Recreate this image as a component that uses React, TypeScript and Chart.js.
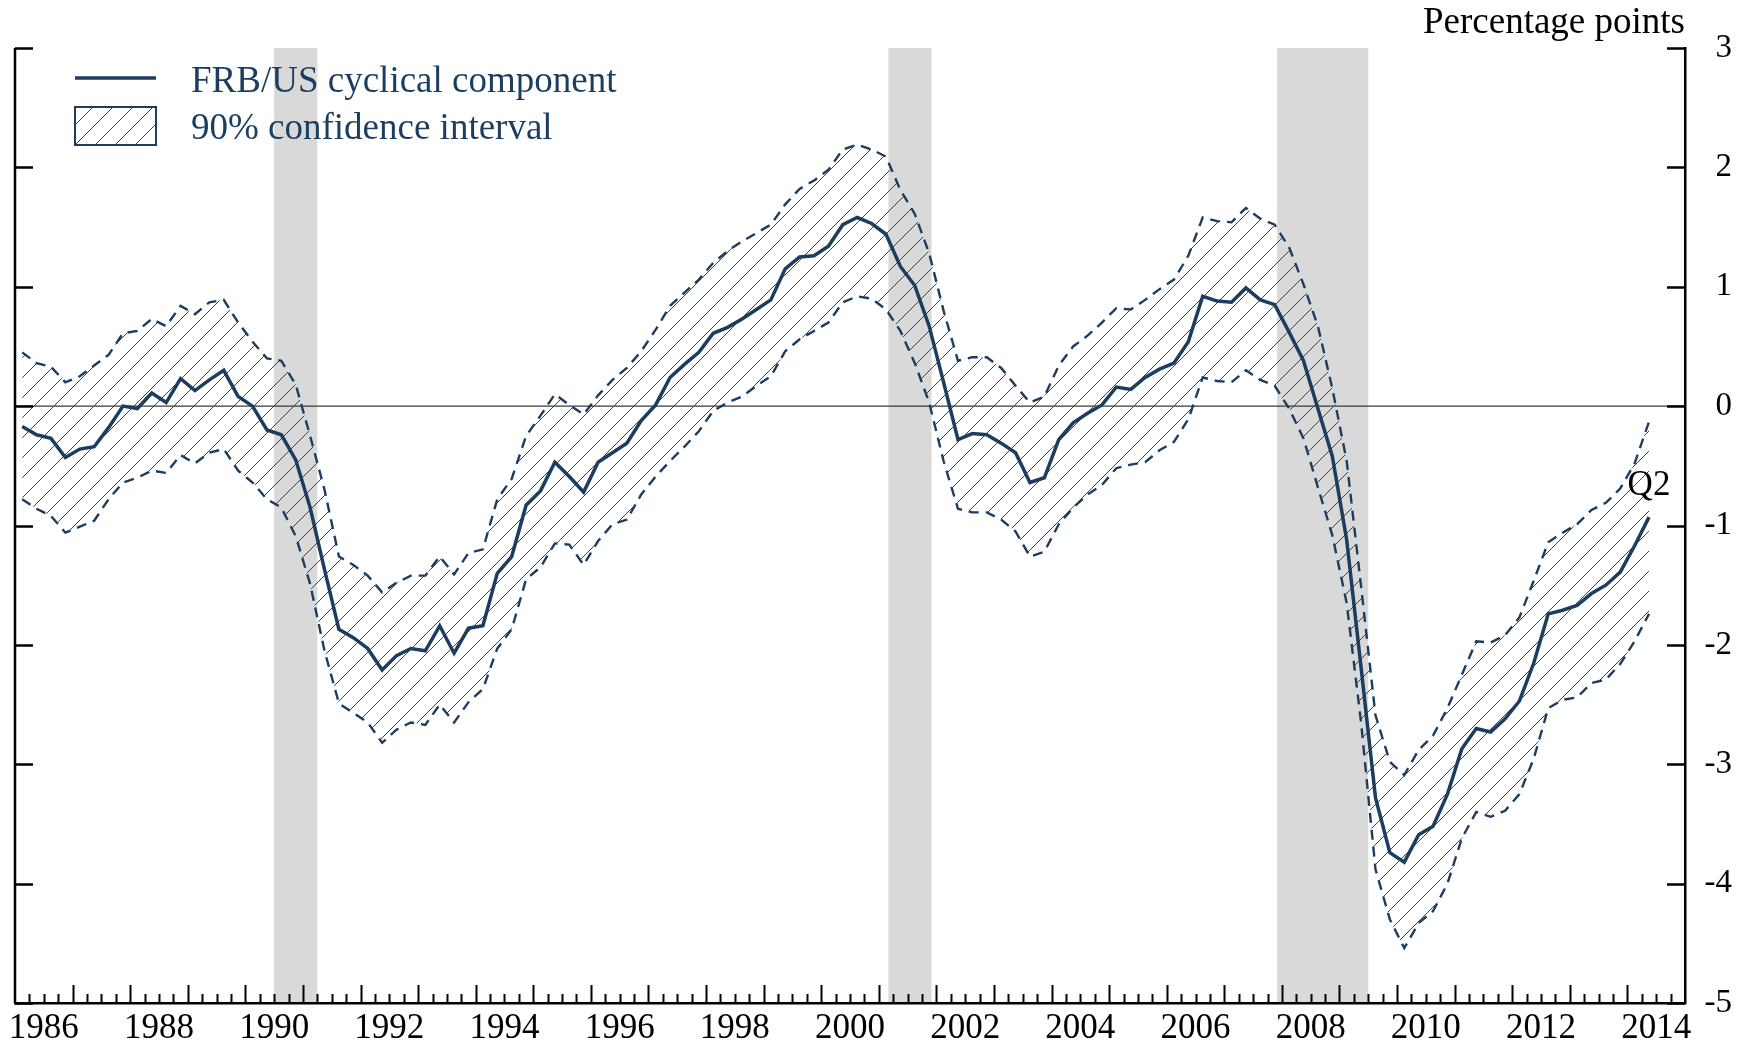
import React, { useEffect, useRef } from "react";
import { Chart, registerables } from "chart.js";

Chart.register(...registerables);

// ---------- data ----------
const startYear = 1986;
const quarterCount = 114; // 1986Q1 .. 2014Q2
const quarters: string[] = [];
for (let i = 0; i < quarterCount; i++) {
  quarters.push(`${startYear + Math.floor(i / 4)}Q${(i % 4) + 1}`);
}

const cyclical: number[] = [
  -0.17, -0.24, -0.27, -0.43, -0.36, -0.34, -0.18, 0.0, -0.02, 0.11,
  0.03, 0.23, 0.13, 0.22, 0.3, 0.08, 0.0, -0.2, -0.24, -0.45,
  -0.85, -1.37, -1.87, -1.94, -2.03, -2.21, -2.09, -2.03, -2.05, -1.84,
  -2.07, -1.86, -1.84, -1.4, -1.26, -0.83, -0.71, -0.47, -0.59, -0.72,
  -0.47, -0.39, -0.31, -0.12, 0.01, 0.24, 0.35, 0.45, 0.61, 0.66,
  0.73, 0.81, 0.89, 1.15, 1.25, 1.26, 1.34, 1.52, 1.58, 1.53,
  1.44, 1.17, 1.01, 0.67, 0.2, -0.28, -0.23, -0.24, -0.31, -0.39,
  -0.64, -0.6, -0.28, -0.14, -0.06, 0.01, 0.16, 0.14, 0.24, 0.31,
  0.36, 0.54, 0.92, 0.88, 0.87, 0.99, 0.89, 0.85, 0.62, 0.38,
  -0.02, -0.42, -1.12, -2.19, -3.28, -3.74, -3.82, -3.59, -3.52, -3.25,
  -2.87, -2.7, -2.73, -2.62, -2.47, -2.15, -1.74, -1.71, -1.67, -1.57,
  -1.5, -1.39, -1.17, -0.93,
];

const upperBound: number[] = [
  0.45, 0.36, 0.33, 0.2, 0.25, 0.34, 0.43, 0.61, 0.63, 0.73,
  0.67, 0.84, 0.77, 0.87, 0.89, 0.7, 0.54, 0.4, 0.38, 0.18,
  -0.25, -0.7, -1.26, -1.33, -1.42, -1.56, -1.48, -1.42, -1.42, -1.26,
  -1.41, -1.23, -1.2, -0.78, -0.61, -0.25, -0.08, 0.1, 0.01, -0.07,
  0.09, 0.22, 0.32, 0.46, 0.64, 0.84, 0.95, 1.06, 1.2, 1.3,
  1.38, 1.45, 1.52, 1.69, 1.82, 1.89, 1.98, 2.15, 2.19, 2.15,
  2.09, 1.81, 1.61, 1.28, 0.8, 0.38, 0.41, 0.41, 0.32, 0.17,
  0.03, 0.08, 0.34, 0.5, 0.59, 0.7, 0.82, 0.81, 0.89, 0.98,
  1.06, 1.26, 1.58, 1.55, 1.54, 1.66, 1.57, 1.52, 1.33, 1.02,
  0.67, 0.15, -0.46, -1.51, -2.59, -2.98, -3.09, -2.88, -2.76, -2.53,
  -2.25, -1.97, -1.98, -1.92, -1.77, -1.46, -1.14, -1.06, -0.99, -0.87,
  -0.81, -0.69, -0.48, -0.13,
];

const lowerBound: number[] = [
  -0.78, -0.86, -0.92, -1.06, -1.01, -0.96, -0.78, -0.64, -0.6, -0.54,
  -0.56, -0.41, -0.48, -0.39, -0.36, -0.54, -0.64, -0.78, -0.85, -1.09,
  -1.49, -2.05, -2.49, -2.57, -2.65, -2.82, -2.71, -2.65, -2.67, -2.5,
  -2.65, -2.48, -2.37, -2.03, -1.87, -1.45, -1.35, -1.15, -1.16, -1.33,
  -1.13, -0.99, -0.95, -0.74, -0.59, -0.46, -0.34, -0.21, -0.04, 0.03,
  0.08, 0.17, 0.25, 0.46, 0.56, 0.63, 0.7, 0.87, 0.92, 0.9,
  0.81, 0.63, 0.36, 0.03, -0.46, -0.86, -0.89, -0.89, -0.95, -1.05,
  -1.26, -1.22, -0.99, -0.85, -0.74, -0.66, -0.52, -0.49, -0.47, -0.37,
  -0.3, -0.11, 0.24, 0.21, 0.2, 0.3, 0.22, 0.17, -0.02, -0.27,
  -0.68, -1.08, -1.65, -2.65, -3.88, -4.3, -4.54, -4.33, -4.23, -4.0,
  -3.62, -3.4, -3.44, -3.39, -3.25, -2.95, -2.53, -2.46, -2.44, -2.32,
  -2.29, -2.16, -1.97, -1.74,
];

const xTickLabels: string[] = [
  "1986", "1988", "1990", "1992", "1994", "1996", "1998",
  "2000", "2002", "2004", "2006", "2008", "2010", "2012", "2014",
];
const yTickValues: number[] = [-5, -4, -3, -2, -1, 0, 1, 2, 3];

// NBER recessions: [peak month, trough month]
const recessions: [string, string][] = [
  ["1990-07", "1991-03"],
  ["2001-03", "2001-11"],
  ["2007-12", "2009-06"],
];

const legendLabels = ["FRB/US cyclical component", "90% confidence interval"];
const unitLabel = "Percentage points";
const endNote = "Q2";

// ---------- styling ----------
const NAVY = "#1c3d5f";
const FONT = "'Liberation Serif', 'Times New Roman', Times, serif";

function quarterToX(q: string): number {
  const y = Number(q.slice(0, 4));
  const n = Number(q.slice(5));
  return y + (n - 0.5) / 4;
}
function monthStart(m: string): number {
  const [y, mo] = m.split("-").map(Number);
  return y + (mo - 1) / 12;
}
function monthEnd(m: string): number {
  const [y, mo] = m.split("-").map(Number);
  return y + mo / 12;
}

function makeHatch(ctx: CanvasRenderingContext2D): CanvasPattern | string {
  const c = document.createElement("canvas");
  c.width = 20;
  c.height = 20;
  const g = c.getContext("2d");
  if (!g) return "rgba(0,0,0,0)";
  g.strokeStyle = "#2a4868";
  g.lineWidth = 1;
  g.beginPath();
  g.moveTo(0, 20);
  g.lineTo(20, 0);
  g.moveTo(-10, 10);
  g.lineTo(10, -10);
  g.moveTo(10, 30);
  g.lineTo(30, 10);
  g.stroke();
  return ctx.createPattern(c, "repeat") || "rgba(0,0,0,0)";
}

export default function App() {
  const canvasRef = useRef<HTMLCanvasElement | null>(null);

  useEffect(() => {
    const canvas = canvasRef.current;
    if (!canvas) return;
    const ctx0 = canvas.getContext("2d");
    if (!ctx0) return;
    const hatch = makeHatch(ctx0);

    const xs = quarters.map(quarterToX);
    const pts = (arr: number[]) => arr.map((v, i) => ({ x: xs[i], y: v }));

    const backgroundPlugin = {
      id: "recessionShading",
      beforeDraw(chart: any) {
        const { ctx, chartArea: a, scales } = chart;
        const x = scales.x;
        const y = scales.y;
        ctx.save();
        ctx.fillStyle = "#ffffff";
        ctx.fillRect(0, 0, chart.width, chart.height);
        ctx.fillStyle = "#d9d9d9";
        recessions.forEach(([s, e]) => {
          const x0 = x.getPixelForValue(monthStart(s));
          const x1 = x.getPixelForValue(monthEnd(e));
          ctx.fillRect(x0, a.top, x1 - x0, a.bottom - a.top);
        });
        const y0 = y.getPixelForValue(0);
        ctx.strokeStyle = "#3a3a3a";
        ctx.lineWidth = 1.3;
        ctx.beginPath();
        ctx.moveTo(a.left, y0);
        ctx.lineTo(a.right, y0);
        ctx.stroke();
        ctx.restore();
      },
    };

    const decorPlugin = {
      id: "decor",
      afterDraw(chart: any) {
        const { ctx, chartArea: a, scales } = chart;
        const x = scales.x;
        const y = scales.y;
        ctx.save();
        // left axis line
        ctx.strokeStyle = "#000";
        ctx.lineWidth = 2.5;
        ctx.beginPath();
        ctx.moveTo(a.left, a.top);
        ctx.lineTo(a.left, a.bottom);
        ctx.stroke();
        // y ticks (inward, both sides)
        ctx.lineWidth = 2.5;
        ctx.beginPath();
        y.ticks.forEach((t: any) => {
          const py = Math.round(y.getPixelForValue(t.value)) + 0.5;
          ctx.moveTo(a.left, py);
          ctx.lineTo(a.left + 18, py);
          ctx.moveTo(a.right - 18, py);
          ctx.lineTo(a.right, py);
        });
        ctx.stroke();
        // x ticks (inward): quarters short, years tall
        ctx.lineWidth = 2;
        ctx.beginPath();
        const nq = Math.round((x.max - x.min) * 4);
        for (let k = 1; k < nq; k++) {
          const px = Math.round(x.getPixelForValue(x.min + k / 4)) + 0.5;
          const len = k % 4 === 0 ? 18 : 9;
          ctx.moveTo(px, a.bottom);
          ctx.lineTo(px, a.bottom - len);
        }
        ctx.stroke();

        // unit label
        ctx.fillStyle = "#000";
        ctx.font = `37px ${FONT}`;
        ctx.textAlign = "right";
        ctx.textBaseline = "alphabetic";
        ctx.fillText(unitLabel, a.right, 33);

        // end note
        const lastI = cyclical.length - 1;
        ctx.font = `35px ${FONT}`;
        ctx.textAlign = "center";
        ctx.fillText(
          endNote,
          x.getPixelForValue(xs[lastI]),
          y.getPixelForValue(cyclical[lastI]) - 22
        );

        // legend
        const lx = a.left + 60;
        ctx.strokeStyle = NAVY;
        ctx.lineWidth = 3.5;
        ctx.beginPath();
        ctx.moveTo(lx, 78);
        ctx.lineTo(lx + 81, 78);
        ctx.stroke();
        ctx.fillStyle = hatch as any;
        ctx.fillRect(lx, 107, 81, 38);
        ctx.lineWidth = 2;
        ctx.strokeRect(lx, 107, 81, 38);
        ctx.fillStyle = NAVY;
        ctx.font = `37px ${FONT}`;
        ctx.textAlign = "left";
        ctx.fillText(legendLabels[0], lx + 116, 92);
        ctx.fillText(legendLabels[1], lx + 116, 139);
        ctx.restore();
      },
    };

    const chart = new Chart(canvas, {
      type: "line",
      data: {
        datasets: [
          {
            label: legendLabels[0],
            data: pts(cyclical),
            borderColor: NAVY,
            borderWidth: 3.5,
            pointRadius: 0,
            tension: 0,
            fill: false,
          },
          {
            label: "upper",
            data: pts(upperBound),
            borderColor: NAVY,
            borderWidth: 2.4,
            borderDash: [10, 7],
            pointRadius: 0,
            tension: 0,
            fill: "+1",
            backgroundColor: hatch as any,
          },
          {
            label: "lower",
            data: pts(lowerBound),
            borderColor: NAVY,
            borderWidth: 2.4,
            borderDash: [10, 7],
            pointRadius: 0,
            tension: 0,
            fill: false,
          },
        ],
      },
      options: {
        responsive: false,
        animation: false,
        events: [],
        layout: { padding: { left: 15, top: 48, right: 20, bottom: 0 } },
        plugins: {
          legend: { display: false },
          tooltip: { enabled: false },
        },
        scales: {
          x: {
            type: "linear",
            min: 1986,
            max: 2015,
            position: "bottom",
            grid: { display: false, drawTicks: false },
            border: { display: true, color: "#000", width: 2.5 },
            afterBuildTicks: (scale: any) => {
              scale.ticks = xTickLabels.map((l) => ({ value: Number(l) + 0.5 }));
            },
            afterFit: (scale: any) => {
              scale.height = 45;
            },
            ticks: {
              autoSkip: false,
              maxRotation: 0,
              minRotation: 0,
              padding: 5,
              color: "#000",
              font: { family: FONT, size: 35 },
              callback: (v: any) => String(Math.floor(Number(v))),
            },
          },
          y: {
            type: "linear",
            min: yTickValues[0],
            max: yTickValues[yTickValues.length - 1],
            position: "right",
            grid: { display: false, drawTicks: false },
            border: { display: true, color: "#000", width: 2.5 },
            afterBuildTicks: (scale: any) => {
              scale.ticks = yTickValues.map((v) => ({ value: v }));
            },
            afterFit: (scale: any) => {
              scale.width = 47;
            },
            ticks: {
              padding: 18,
              crossAlign: "far",
              color: "#000",
              font: { family: FONT, size: 33 },
              callback: (v: any) => String(v),
            },
          },
        },
      } as any,
      plugins: [backgroundPlugin, decorPlugin],
    });

    return () => {
      chart.destroy();
    };
  }, []);

  return (
    <div
      style={{
        position: "fixed",
        left: 0,
        top: 0,
        width: 1752,
        height: 1048,
        background: "#fff",
      }}
    >
      <canvas
        ref={canvasRef}
        width={1752}
        height={1048}
        style={{ display: "block", width: 1752, height: 1048 }}
      />
    </div>
  );
}
